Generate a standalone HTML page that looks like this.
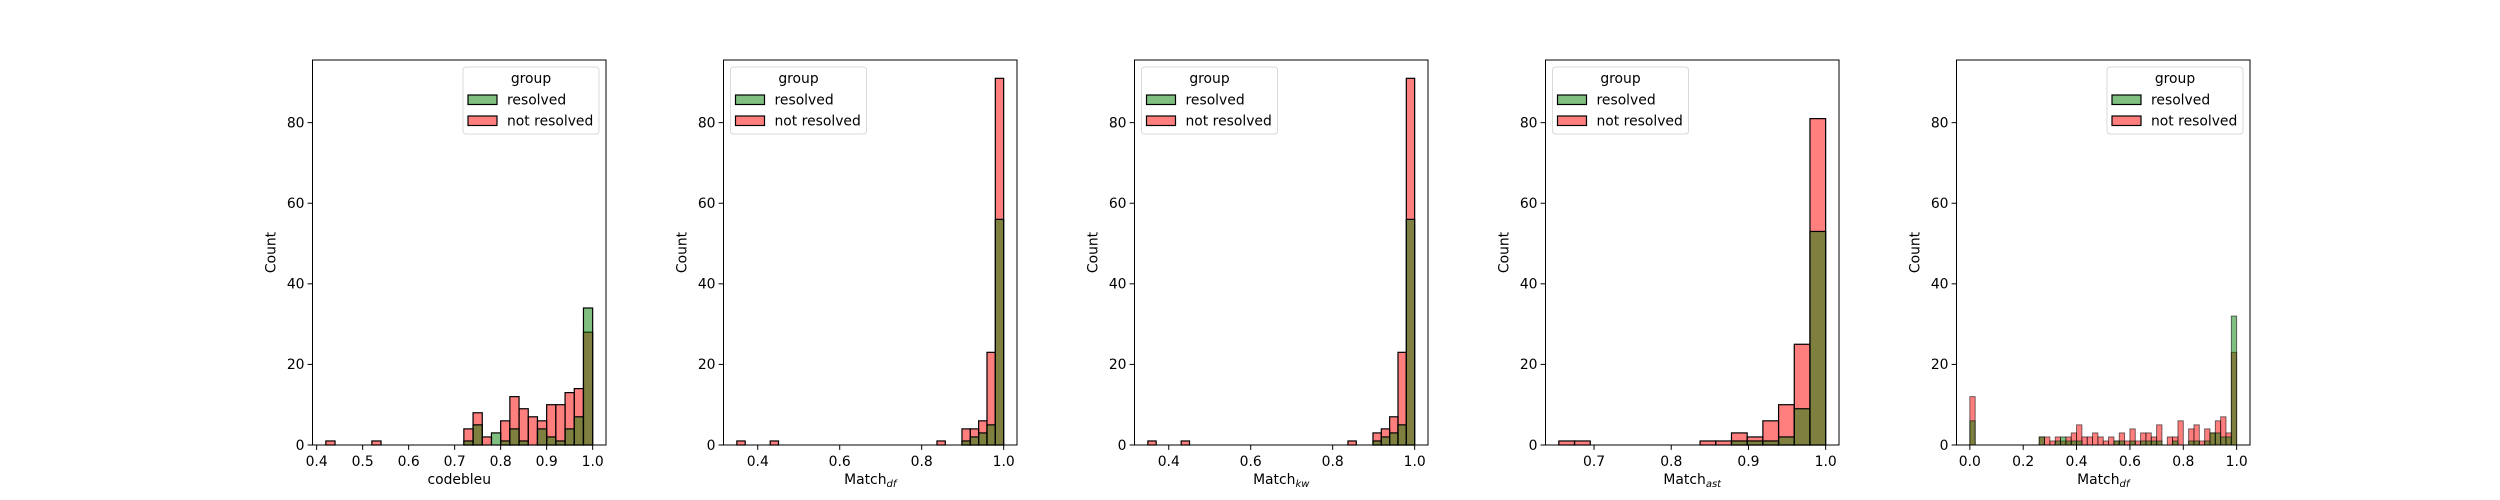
<!DOCTYPE html>
<html><head><meta charset="utf-8">
<style>
html,body{margin:0;padding:0;background:#fff;}
svg{display:block;font-family:"DejaVu Sans","Liberation Sans",sans-serif;}
</style></head>
<body>
<svg id="fig" width="2500" height="500" viewBox="0 0 2500 500" xmlns="http://www.w3.org/2000/svg"></svg>
<script>
// ---- data ----
const p1Start = 0.42, p1Bins = 29;
const p1Red   = [1,0,0,0,0,1,0,0,0,0,0,0,0,0,0,4,8,2,0,6,12,9,7,6,10,10,13,14,28];
const p1Green = [0,0,0,0,0,0,0,0,0,0,0,0,0,0,0,1,5,0,3,1,4,1,0,4,2,1,4,7,34];
const p2Start = 0.349, p2Bins = 32;
const p2Red   = [1,0,0,0,1,0,0,0,0,0,0,0,0,0,0,0,0,0,0,0,0,0,0,0,1,0,0,4,4,6,23,91];
const p2Green = [0,0,0,0,0,0,0,0,0,0,0,0,0,0,0,0,0,0,0,0,0,0,0,0,0,0,0,1,2,3,5,56];
const p3Start = 0.349, p3Bins = 32;
const p3Red   = [1,0,0,0,1,0,0,0,0,0,0,0,0,0,0,0,0,0,0,0,0,0,0,0,1,0,0,3,4,7,23,91];
const p3Green = [0,0,0,0,0,0,0,0,0,0,0,0,0,0,0,0,0,0,0,0,0,0,0,0,0,0,0,1,2,3,5,56];
const p4Start = 0.6544, p4Bins = 17;
const p4Red   = [1,1,0,0,0,0,0,0,0,1,1,3,2,6,10,25,81];
const p4Green = [0,0,0,0,0,0,0,0,0,0,0,1,1,1,2,9,53];
const p5Start = 0.0, p5Bins = 50;
const p5Red   = [12,0,0,0,0,0,0,0,0,0,0,0,0,2,2,1,2,1,2,3,5,2,2,3,2,1,2,1,3,1,4,1,3,3,2,5,0,2,2,6,0,4,5,1,4,3,6,7,3,23];
const p5Green = [6,0,0,0,0,0,0,0,0,0,0,0,0,2,0,0,1,2,1,1,1,0,0,0,0,0,0,1,1,0,1,0,1,1,1,1,0,0,1,0,0,1,1,0,1,3,3,2,2,32];
const p1Ticks = [0.4,0.5,0.6,0.7,0.8,0.9,1.0];
const p2Ticks = [0.4,0.6,0.8,1.0];
const p3Ticks = [0.4,0.6,0.8,1.0];
const p4Ticks = [0.7,0.8,0.9,1.0];
const p5Ticks = [0.0,0.2,0.4,0.6,0.8,1.0];
const yTicks = [0,20,40,60,80];
const yMax = 95.55;

const NS = "http://www.w3.org/2000/svg";
const fig = document.getElementById('fig');
function mk(tag, attrs, parent){
  const e = document.createElementNS(NS, tag);
  for (const k in attrs) e.setAttribute(k, attrs[k]);
  (parent||fig).appendChild(e);
  return e;
}
const TOP = 60, BOT = 445, W = 293.5;

const panels = [
  {start:p1Start, bins:p1Bins, red:p1Red, green:p1Green, ticks:p1Ticks, label:"codebleu", sub:null, legend:"right", thin:false},
  {start:p2Start, bins:p2Bins, red:p2Red, green:p2Green, ticks:p2Ticks, label:"Match", sub:"df", legend:"left", thin:false},
  {start:p3Start, bins:p3Bins, red:p3Red, green:p3Green, ticks:p3Ticks, label:"Match", sub:"kw", legend:"left", thin:false},
  {start:p4Start, bins:p4Bins, red:p4Red, green:p4Green, ticks:p4Ticks, label:"Match", sub:"ast", legend:"left", thin:false},
  {start:p5Start, bins:p5Bins, red:p5Red, green:p5Green, ticks:p5Ticks, label:"Match", sub:"df", legend:"right", thin:true}
];

panels.forEach((p, i) => {
  const L = 312.5 + i*411;
  const g = mk('g', {});
  
  
  const r = 1 - p.start;
  const x0 = p.start - 0.05*r, x1 = 1 + 0.05*r;
  const xs = v => L + (v - x0)/(x1 - x0)*W;
  const ys = v => BOT - v/yMax*(BOT-TOP);
  const bw = r / p.bins;
  const sw = p.thin ? 0.9 : 1.2;
  const sc = p.thin ? 'rgba(0,0,0,0.6)' : '#000';
  // red bars first
  p.red.forEach((v, k) => {
    if (!v) return;
    const a = xs(p.start + k*bw), b = xs(p.start + (k+1)*bw);
    const rc = mk('rect', {x:a, y:ys(v), width:b-a, height:ys(0)-ys(v), fill:'rgba(255,0,0,0.5)', stroke:sc, 'stroke-width':sw}, g);
    
    
  });
  p.green.forEach((v, k) => {
    if (!v) return;
    const a = xs(p.start + k*bw), b = xs(p.start + (k+1)*bw);
    const rc = mk('rect', {x:a, y:ys(v), width:b-a, height:ys(0)-ys(v), fill:'rgba(0,128,0,0.5)', stroke:sc, 'stroke-width':sw}, g);
    
    
  });
  // frame
  const fr = mk('rect', {x:L, y:TOP, width:W, height:BOT-TOP, fill:'none', stroke:'#000', 'stroke-width':1}, g);
  
  
  // y ticks
  yTicks.forEach(t => {
    const y = ys(t);
    mk('line', {x1:L-4.9, x2:L, y1:y, y2:y, stroke:'#000', 'stroke-width':1}, g);
    const tx = mk('text', {x:L-8, y:y+4.8, 'font-size':13.9, 'text-anchor':'end', fill:'#000'}, g);
    
    
    tx.textContent = t;
  });
  const yl = mk('text', {x:0, y:0, 'font-size':13.9, 'text-anchor':'middle', transform:`translate(${L-37},${(TOP+BOT)/2}) rotate(-90)`}, g);
  
  
  yl.textContent = 'Count';
  // x ticks
  p.ticks.forEach(t => {
    const x = xs(t);
    mk('line', {x1:x, x2:x, y1:BOT, y2:BOT+4.9, stroke:'#000', 'stroke-width':1}, g);
    const tx = mk('text', {x:x, y:BOT+21, 'font-size':13.9, 'text-anchor':'middle'}, g);
    
    
    tx.textContent = t.toFixed(1);
  });
  const xl = mk('text', {x:L+W/2, y:BOT+39, 'font-size':13.9, 'text-anchor':'middle'}, g);
  
  
  xl.textContent = p.label;
  if (p.sub) {
    const ts = mk('tspan', {'font-size':10, 'font-style':'italic', dy:3}, xl);
    ts.textContent = p.sub;
  }
  // legend
  const lw = 136, lh = 67;
  const lx = p.legend === 'right' ? L + W - 7 - lw : L + 7;
  const ly = TOP + 7;
  const lg = mk('g', {}, g);
  
  
  mk('rect', {x:lx, y:ly, width:lw, height:lh, rx:3, fill:'rgba(255,255,255,0.8)', stroke:'#d9d9d9', 'stroke-width':1}, lg);
  const tt = mk('text', {x:lx+lw/2, y:ly+16, 'font-size':13.9, 'text-anchor':'middle'}, lg);
  
  
  tt.textContent = 'group';
  [['resolved','rgba(0,128,0,0.5)'],['not resolved','rgba(255,0,0,0.5)']].forEach((e, j) => {
    const yy = ly + 28 + j*21;
    const sw2 = mk('rect', {x:lx+5, y:yy, width:29, height:9.5, fill:e[1], stroke:'#000', 'stroke-width':1.2}, lg);
    
    
    const et = mk('text', {x:lx+44, y:yy+9.5, 'font-size':13.9}, lg);
    
    
    et.textContent = e[0];
  });
});
</script>
</body></html>
